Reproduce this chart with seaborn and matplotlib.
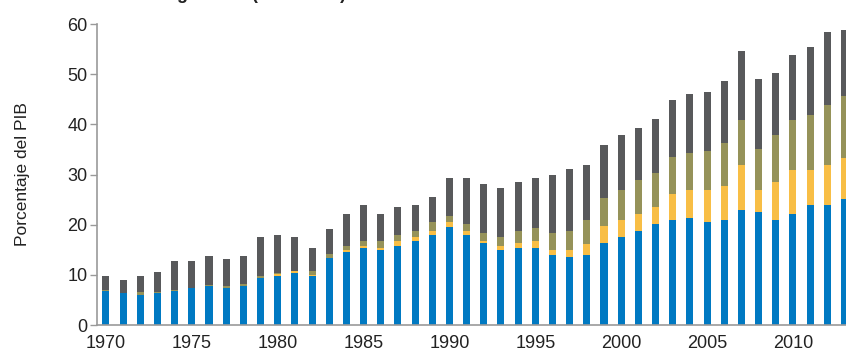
import numpy as np
import pandas as pd
import matplotlib
matplotlib.use("Agg")
import matplotlib.pyplot as plt
import seaborn as sns

# Datos (porcentaje del PIB, por componente)
years = list(range(1970, 2014))
blue = [6.8, 6.3, 5.9, 6.3, 6.8, 7.3, 7.7, 7.3, 7.7, 9.3,
        9.8, 10.3, 9.8, 13.3, 14.5, 15.3, 14.9, 15.8, 16.7, 17.9,
        19.6, 17.9, 16.3, 14.9, 15.3, 15.3, 14.0, 13.6, 14.0, 16.3,
        17.5, 18.8, 20.1, 20.9, 21.3, 20.5, 20.9, 23.0, 22.6, 20.9,
        22.2, 23.9, 23.9, 25.2]
yellow = [0.0, 0.0, 0.0, 0.0, 0.0, 0.0, 0.0, 0.0, 0.0, 0.0,
          0.4, 0.4, 0.1, 0.1, 0.4, 0.5, 0.5, 0.9, 0.8, 0.9,
          0.9, 0.9, 0.4, 0.9, 1.0, 1.4, 0.9, 1.3, 2.2, 3.4,
          3.4, 3.4, 3.4, 5.2, 5.6, 6.4, 6.8, 8.9, 4.3, 7.7,
          8.6, 6.9, 8.0, 8.0]
olive = [0.1, 0.1, 0.6, 0.2, 0.1, 0.1, 0.2, 0.5, 0.5, 0.5,
         0.1, 0.1, 0.8, 0.7, 0.9, 0.9, 1.3, 1.3, 1.3, 1.8,
         1.3, 1.3, 1.7, 1.7, 2.5, 2.6, 3.5, 3.9, 4.7, 5.6,
         6.0, 6.8, 6.8, 7.3, 7.3, 7.7, 8.6, 9.0, 8.1, 9.3,
         10.1, 11.0, 12.0, 12.4]
gray = [2.9, 2.6, 3.3, 4.1, 5.9, 5.4, 5.8, 5.4, 5.5, 7.7,
        7.6, 6.7, 4.6, 5.1, 6.4, 7.2, 5.5, 5.5, 5.1, 5.0,
        7.6, 9.3, 9.8, 9.8, 9.8, 10.1, 11.5, 12.3, 11.0, 10.5,
        11.0, 10.3, 10.7, 11.5, 11.9, 11.9, 12.3, 13.7, 14.0, 12.4,
        12.9, 13.6, 14.5, 13.2]

colors = ["#0079c2", "#f8be45", "#959259", "#58595b"]

df = pd.DataFrame({"year": years, "blue": blue, "yellow": yellow,
                   "olive": olive, "gray": gray})
# acumulados para dibujar las barras apiladas (de arriba hacia abajo)
df["c1"] = df["blue"]
df["c2"] = df["c1"] + df["yellow"]
df["c3"] = df["c2"] + df["olive"]
df["c4"] = df["c3"] + df["gray"]

sns.set_style("white")
plt.rcParams["font.family"] = ["Liberation Sans", "DejaVu Sans"]

fig = plt.figure(figsize=(8.46, 3.53), dpi=100)
ax = fig.add_axes([0.1147, 0.0793, 0.8853, 0.8527])

for col, c in zip(["c4", "c3", "c2", "c1"], colors[::-1]):
    sns.barplot(data=df, x="year", y=col, color=c, width=0.41,
                linewidth=0, saturation=1, ax=ax, errorbar=None)

ax.set_ylim(0, 60)
ax.set_xlim(-0.52, len(years) - 1 + 0.09)
ax.set_yticks(range(0, 61, 10))
ax.set_xticks([i for i, y in enumerate(years) if y % 5 == 0])
ax.set_xticklabels([str(y) for y in years if y % 5 == 0])
ax.tick_params(axis="y", which="both", left=True, length=5, width=1,
               color="#999999", labelsize=13, pad=2, labelcolor="#222222")
ax.tick_params(axis="x", bottom=False, labelsize=13, pad=4,
               labelcolor="#222222")
ax.set_xlabel("")
ax.set_ylabel("Porcentaje del PIB", fontsize=12.5, color="#222222",
              labelpad=27)

for s in ["top", "right"]:
    ax.spines[s].set_visible(False)
for s in ["left", "bottom"]:
    ax.spines[s].set_color("#9a9a9a")
    ax.spines[s].set_linewidth(1.2)

# titulo cortado en la parte superior (solo se ve el borde inferior)
fig.text(0.012, 1 + 1 / 353, "Deuda bruta de los grandes (% del PIB)",
         fontsize=13, fontweight="bold", color="#222222", va="baseline")

fig.savefig("out.png", dpi=100)
